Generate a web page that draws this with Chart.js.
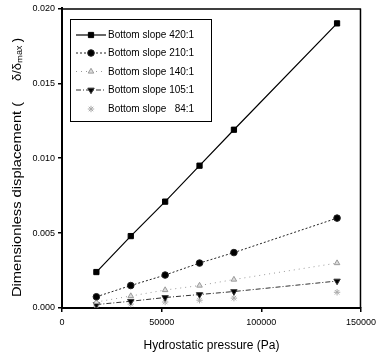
<!DOCTYPE html>
<html><head><meta charset="utf-8">
<script src="https://cdn.jsdelivr.net/npm/chart.js@4/dist/chart.umd.min.js"></script>
<style>html,body{margin:0;padding:0;background:#fff}#wrap{width:381px;height:361px}</style>
</head><body><div id="wrap"><canvas id="c" width="381" height="361"></canvas></div>
<script>
const pressure = [17250, 34500, 51750, 69000, 86250, 138000];
const seriesLabels = ["Bottom slope 420:1", "Bottom slope 210:1", "Bottom slope 140:1", "Bottom slope 105:1", "Bottom slope   84:1"];
const slope420 = [0.0024, 0.0048, 0.0071, 0.0095, 0.0119, 0.0190];
const slope210 = [0.00075, 0.0015, 0.0022, 0.0030, 0.0037, 0.0060];
const slope140 = [0.0004, 0.0008, 0.0012, 0.0015, 0.0019, 0.0030];
const slope105 = [0.00023, 0.00045, 0.0007, 0.0009, 0.0011, 0.0018];
const slope84  = [0.00013, 0.00026, 0.0004, 0.00052, 0.00066, 0.00105];
const yTicks = [0, 0.005, 0.010, 0.015, 0.020];
const xTicks = [0, 50000, 100000, 150000];
const xTitle = 'Hydrostatic pressure (Pa)';
const yTitleMain = 'Dimensionless displacement (';
const yTitleSym = 'δ/δₘₐₓ )';

const FONT = "'Liberation Sans', Arial, sans-serif";
const toXY = arr => arr.map((v, i) => ({x: pressure[i], y: v}));

const styles = [
  {color:'#000', dash:[], style:'rect', radius:3.7, rot:0, fill:'#000', line:true, lw:1.2},
  {color:'#222', dash:[2,2], style:'circle', radius:3.3, rot:0, fill:'#000', line:true, lw:1},
  {color:'#999', dash:[1,4], style:'triangle', radius:3.2, rot:0, fill:'#ddd', line:true, lw:1},
  {color:'#333', dash:[5,2,1,2], style:'triangle', radius:3.7, rot:180, fill:'#000', line:true, lw:1},
  {color:'#aaa', dash:[], style:'star', radius:3.2, rot:0, fill:'#ccc', line:false, lw:1}
];
const allData = [slope420, slope210, slope140, slope105, slope84];

const datasets = allData.map((d, i) => ({
  label: seriesLabels[i],
  data: toXY(d),
  borderColor: styles[i].color,
  backgroundColor: styles[i].fill,
  borderDash: styles[i].dash,
  borderWidth: styles[i].lw,
  showLine: styles[i].line,
  pointStyle: styles[i].style,
  pointRadius: styles[i].radius,
  pointRotation: styles[i].rot,
  pointBorderColor: styles[i].color,
  pointBackgroundColor: styles[i].fill,
  pointBorderWidth: 1,
  tension: 0
}));

const framePlugin = {
  id: 'frame',
  afterDraw(chart) {
    const {ctx, chartArea: a} = chart;
    ctx.save();
    ctx.strokeStyle = '#000';
    ctx.lineWidth = 1.5;
    ctx.beginPath();
    ctx.moveTo(a.left, a.top + 0.5); ctx.lineTo(a.right, a.top + 0.5);
    ctx.moveTo(a.right - 0.5, a.top); ctx.lineTo(a.right - 0.5, a.bottom);
    ctx.stroke();
    // y axis title
    ctx.save();
    ctx.translate(17, 297);
    ctx.rotate(-Math.PI / 2);
    ctx.fillStyle = '#000';
    ctx.font = '13px ' + FONT;
    ctx.textBaseline = 'middle';
    ctx.textAlign = 'left';
    ctx.fillText(yTitleSym, 216, 0);
    ctx.scale(1.13, 1);
    ctx.fillText(yTitleMain, 0, 0);
    ctx.restore();
    // legend
    const bx = 70, by = 19, bw = 141, bh = 102;
    ctx.lineWidth = 1;
    ctx.strokeStyle = '#000';
    ctx.fillStyle = '#fff';
    ctx.fillRect(bx, by, bw, bh);
    ctx.strokeRect(bx + 0.5, by + 0.5, bw, bh);
    const rows = [35, 53, 71.5, 90, 109];
    chart.data.datasets.forEach((ds, i) => {
      const y = rows[i];
      const s = styles[i];
      if (s.line) {
        ctx.save();
        ctx.strokeStyle = s.color;
        ctx.lineWidth = s.lw;
        ctx.setLineDash(s.dash);
        ctx.beginPath();
        ctx.moveTo(76, y); ctx.lineTo(106, y);
        ctx.stroke();
        ctx.restore();
      }
      ctx.save();
      ctx.fillStyle = s.fill;
      ctx.strokeStyle = s.color;
      ctx.lineWidth = 1;
      Chart.helpers.drawPoint(ctx, {pointStyle: s.style, radius: s.radius, rotation: s.rot, borderWidth: 1}, 91, y);
      ctx.restore();
      ctx.fillStyle = '#000';
      ctx.font = '10px ' + FONT;
      ctx.textBaseline = 'middle';
      ctx.textAlign = 'left';
      ctx.fillText(ds.label, 108, y + 0.5);
    });
    ctx.restore();
  }
};

new Chart(document.getElementById('c'), {
  type: 'scatter',
  data: { datasets },
  options: {
    responsive: false,
    animation: false,
    layout: { padding: { top: 6, right: 18, left: 0, bottom: 0 } },
    plugins: { legend: { display: false }, tooltip: { enabled: false } },
    scales: {
      x: {
        type: 'linear', min: 0, max: 150000,
        afterFit(s) { s.height = 53; },
        afterBuildTicks(s) { s.ticks = xTicks.map(v => ({value: v})); },
        ticks: { color: '#000', font: { family: FONT, size: 9 }, padding: 5, maxRotation: 0,
                 callback: v => String(v) },
        grid: { drawOnChartArea: false, drawTicks: true, tickLength: 4, color: '#000', lineWidth: 1.5 },
        border: { display: true, color: '#000', width: 2 },
        title: { display: true, text: xTitle, color: '#000',
                 font: { family: FONT, size: 12 }, padding: { top: 2, bottom: 8 } }
      },
      y: {
        type: 'linear', min: 0, max: 0.02,
        afterFit(s) { s.width = 62; },
        afterBuildTicks(s) { s.ticks = yTicks.map(v => ({value: v})); },
        ticks: { color: '#000', font: { family: FONT, size: 9 }, padding: 3,
                 callback: v => Number(v).toFixed(3) },
        grid: { drawOnChartArea: false, drawTicks: true, tickLength: 4, color: '#000', lineWidth: 1.5 },
        border: { display: true, color: '#000', width: 2 },
        title: { display: false }
      }
    }
  },
  plugins: [framePlugin]
});
</script></body></html>
